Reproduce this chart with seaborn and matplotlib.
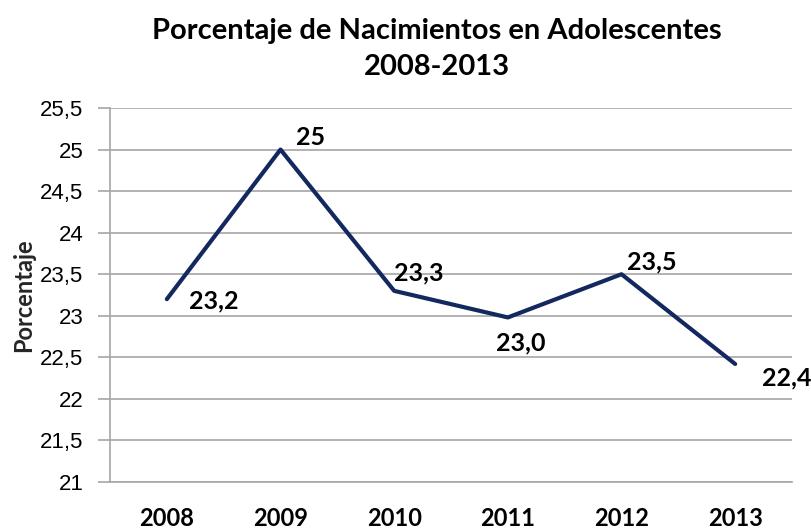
import matplotlib
matplotlib.use("Agg")
import matplotlib.pyplot as plt
import seaborn as sns
import pandas as pd

years = ["2008", "2009", "2010", "2011", "2012", "2013"]
values = [23.2, 25.0, 23.3, 22.98, 23.5, 22.42]
labels = ["23,2", "25", "23,3", "23,0", "23,5", "22,4"]
yticks = [21, 21.5, 22, 22.5, 23, 23.5, 24, 24.5, 25, 25.5]
ytick_labels = ["21", "21,5", "22", "22,5", "23", "23,5", "24", "24,5", "25", "25,5"]
title_lines = ["Porcentaje de Nacimientos en Adolescentes", "2008-2013"]

sns.set_theme(style="white")
plt.rcParams["font.family"] = ["Liberation Sans", "DejaVu Sans"]

df = pd.DataFrame({"year": years, "value": values})
df["pos"] = range(len(years))

fig = plt.figure(figsize=(8.12, 5.29), dpi=100)
ax = fig.add_axes([110 / 812, 1 - 482 / 529, (792 - 110) / 812, (482 - 108) / 529])

sns.lineplot(data=df, x="pos", y="value", ax=ax, color="#13285E", linewidth=3.0, sort=False)

ax.set_xlim(-0.5, 5.5)
ax.set_ylim(21, 25.5)
ax.set_yticks(yticks)
ax.set_yticklabels(ytick_labels, fontsize=16, family="Liberation Sans")
ax.set_xticks(range(len(years)))
ax.set_xticklabels(years, fontsize=17, fontweight="bold", family="Lato")
ax.yaxis.grid(True, color="#A6A6A6", linewidth=1.2)
ax.xaxis.grid(False)
for s in ["top", "right"]:
    ax.spines[s].set_visible(False)
for s in ["left", "bottom"]:
    ax.spines[s].set_color("#A6A6A6")
    ax.spines[s].set_linewidth(1.2)
ax.tick_params(axis="y", which="major", left=True, length=9, width=1.2, color="#A6A6A6", pad=10, labelcolor="black")
ax.tick_params(axis="x", which="major", bottom=False, pad=12, labelcolor="black")
ax.set_xlabel("")
ax.set_ylabel("Porcentaje", fontsize=17, fontweight="bold", family="Lato", labelpad=4)

offsets = [(22, -2), (16, 12), (0, 18), (-12, -25), (6, 12), (27, -14)]
for i, (v, lab) in enumerate(zip(values, labels)):
    dx, dy = offsets[i]
    ax.annotate(lab, xy=(i, v), xytext=(dx, dy), textcoords="offset pixels",
                ha="left", va="center", fontsize=18, fontweight="bold", family="Lato", color="black")

fig.text(437 / 812, 1 - 31 / 529, title_lines[0], ha="center", va="center", fontsize=21,
         fontweight="bold", family="Lato", color="black")
fig.text(437 / 812, 1 - 67 / 529, title_lines[1], ha="center", va="center", fontsize=21,
         fontweight="bold", family="Lato", color="black")

fig.savefig("out.png", dpi=100)
